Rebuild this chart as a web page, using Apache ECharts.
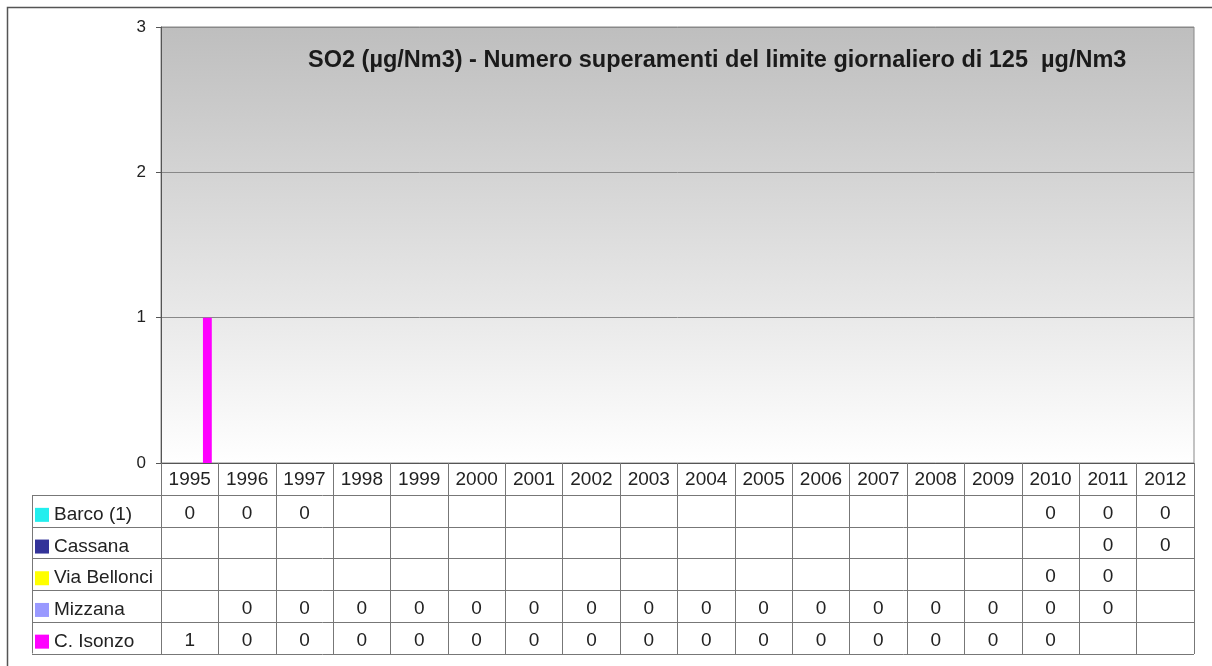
<!DOCTYPE html>
<html>
<head>
<meta charset="utf-8">
<script src="https://cdn.jsdelivr.net/npm/echarts@6/dist/echarts.min.js"></script>
<style>
  html, body { margin: 0; padding: 0; background: #fff; }
  #main { width: 1212px; height: 666px; }
</style>
</head>
<body>
<div id="main"></div>
<script>
// anni (categorie)
const years = ['1995', '1996', '1997', '1998', '1999', '2000', '2001', '2002', '2003',
  '2004', '2005', '2006', '2007', '2008', '2009', '2010', '2011', '2012'];

// numero superamenti per stazione (null = nessun dato)
const barco = [0, 0, 0, null, null, null, null, null, null, null, null, null, null, null, null, 0, 0, 0];
const cassana = [null, null, null, null, null, null, null, null, null, null, null, null, null, null, null, null, 0, 0];
const viaBellonci = [null, null, null, null, null, null, null, null, null, null, null, null, null, null, null, 0, 0, null];
const mizzana = [null, 0, 0, 0, 0, 0, 0, 0, 0, 0, 0, 0, 0, 0, 0, 0, 0, null];
const cIsonzo = [1, 0, 0, 0, 0, 0, 0, 0, 0, 0, 0, 0, 0, 0, 0, 0, null, null];

const seriesNames = ['Barco (1)', 'Cassana', 'Via Bellonci', 'Mizzana', 'C. Isonzo'];
const seriesData = [barco, cassana, viaBellonci, mizzana, cIsonzo];
const seriesColors = ['#22eeee', '#333399', '#ffff00', '#9999ff', '#ff00ff'];

const yTicks = [0, 1, 2, 3];

// layout
const W = 1212, H = 666;
const plotLeft = 161, plotTop = 27, plotRight = 1194, plotBottom = 463;
const rowH = 31.7;
const headerBottom = 495;
const tableLeft = 32;
const font = 'Liberation Sans, Arial, sans-serif';
const tableFont = 19;

let chart = echarts.init(document.getElementById('main'));

// assi x nascosti che scrivono i valori della tabella
const tableAxes = seriesData.map(function (row, i) {
  return {
    type: 'category',
    data: years,
    position: 'bottom',
    offset: headerBottom + rowH * i + rowH / 2 + 3 - plotBottom,
    axisLine: { show: false },
    axisTick: { show: false },
    splitLine: { show: false },
    axisLabel: {
      interval: 0,
      margin: 0,
      verticalAlign: 'middle',
      fontSize: tableFont,
      fontFamily: font,
      color: '#222',
      formatter: function (v, idx) {
        return row[idx] == null ? '' : String(row[idx]);
      }
    }
  };
});

// righe orizzontali della tabella
const tableLines = [];
for (let i = 0; i <= seriesData.length; i++) {
  const y = Math.round(headerBottom + rowH * i) + 0.5;
  tableLines.push({
    type: 'line',
    shape: { x1: tableLeft, y1: y, x2: plotRight, y2: y },
    style: { stroke: '#777', lineWidth: 1 }
  });
}
tableLines.push({
  type: 'line',
  shape: { x1: tableLeft + 0.5, y1: headerBottom, x2: tableLeft + 0.5, y2: headerBottom + rowH * seriesData.length },
  style: { stroke: '#777', lineWidth: 1 }
});
// cornice esterna
tableLines.push({
  type: 'rect',
  shape: { x: 7.5, y: 7.5, width: W + 20, height: H + 20 },
  style: { fill: null, stroke: '#555', lineWidth: 1.5 }
});

chart.setOption({
  animation: false,
  title: {
    text: 'SO2 (µg/Nm3) - Numero superamenti del limite giornaliero di 125  µg/Nm3',
    left: 303,
    top: 44,
    textStyle: { fontSize: 23.5, fontWeight: 'bold', fontFamily: font, color: '#1a1a1a' }
  },
  legend: {
    data: seriesNames,
    orient: 'vertical',
    left: 35,
    top: headerBottom + rowH / 2 + 4 - 9.5,
    height: 200,
    padding: 0,
    itemWidth: 14,
    itemHeight: 14,
    itemGap: rowH - 19,
    icon: 'rect',
    selectedMode: false,
    textStyle: { fontSize: tableFont, fontFamily: font, color: '#222' }
  },
  grid: {
    left: plotLeft,
    top: plotTop,
    right: W - plotRight,
    bottom: H - plotBottom,
    show: true,
    borderColor: '#888',
    borderWidth: 1,
    backgroundColor: new echarts.graphic.LinearGradient(0, 0, 0, 1, [
      { offset: 0, color: '#bebebe' },
      { offset: 1, color: '#ffffff' }
    ])
  },
  xAxis: [
    {
      type: 'category',
      data: years,
      axisLine: { lineStyle: { color: '#555', width: 1 } },
      axisTick: {
        show: true,
        interval: 0,
        alignWithLabel: false,
        length: Math.round(headerBottom - plotBottom + rowH * seriesData.length),
        lineStyle: { color: '#777' }
      },
      axisLabel: {
        interval: 0,
        margin: 17,
        verticalAlign: 'middle',
        fontSize: tableFont,
        fontFamily: font,
        color: '#222'
      }
    }
  ].concat(tableAxes),
  yAxis: {
    type: 'value',
    min: yTicks[0],
    max: yTicks[yTicks.length - 1],
    interval: 1,
    axisLine: { show: true, lineStyle: { color: '#555' } },
    axisTick: { show: true, length: 5, lineStyle: { color: '#555' } },
    axisLabel: { margin: 15, fontSize: 17, fontFamily: font, color: '#222' },
    splitLine: { lineStyle: { color: '#888', width: 1 } }
  },
  series: seriesNames.map(function (name, i) {
    return {
      name: name,
      type: 'bar',
      data: seriesData[i],
      xAxisIndex: 0,
      itemStyle: { color: seriesColors[i] },
      barGap: 0,
      barCategoryGap: '23%'
    };
  }),
  graphic: tableLines
});
</script>
</body>
</html>
